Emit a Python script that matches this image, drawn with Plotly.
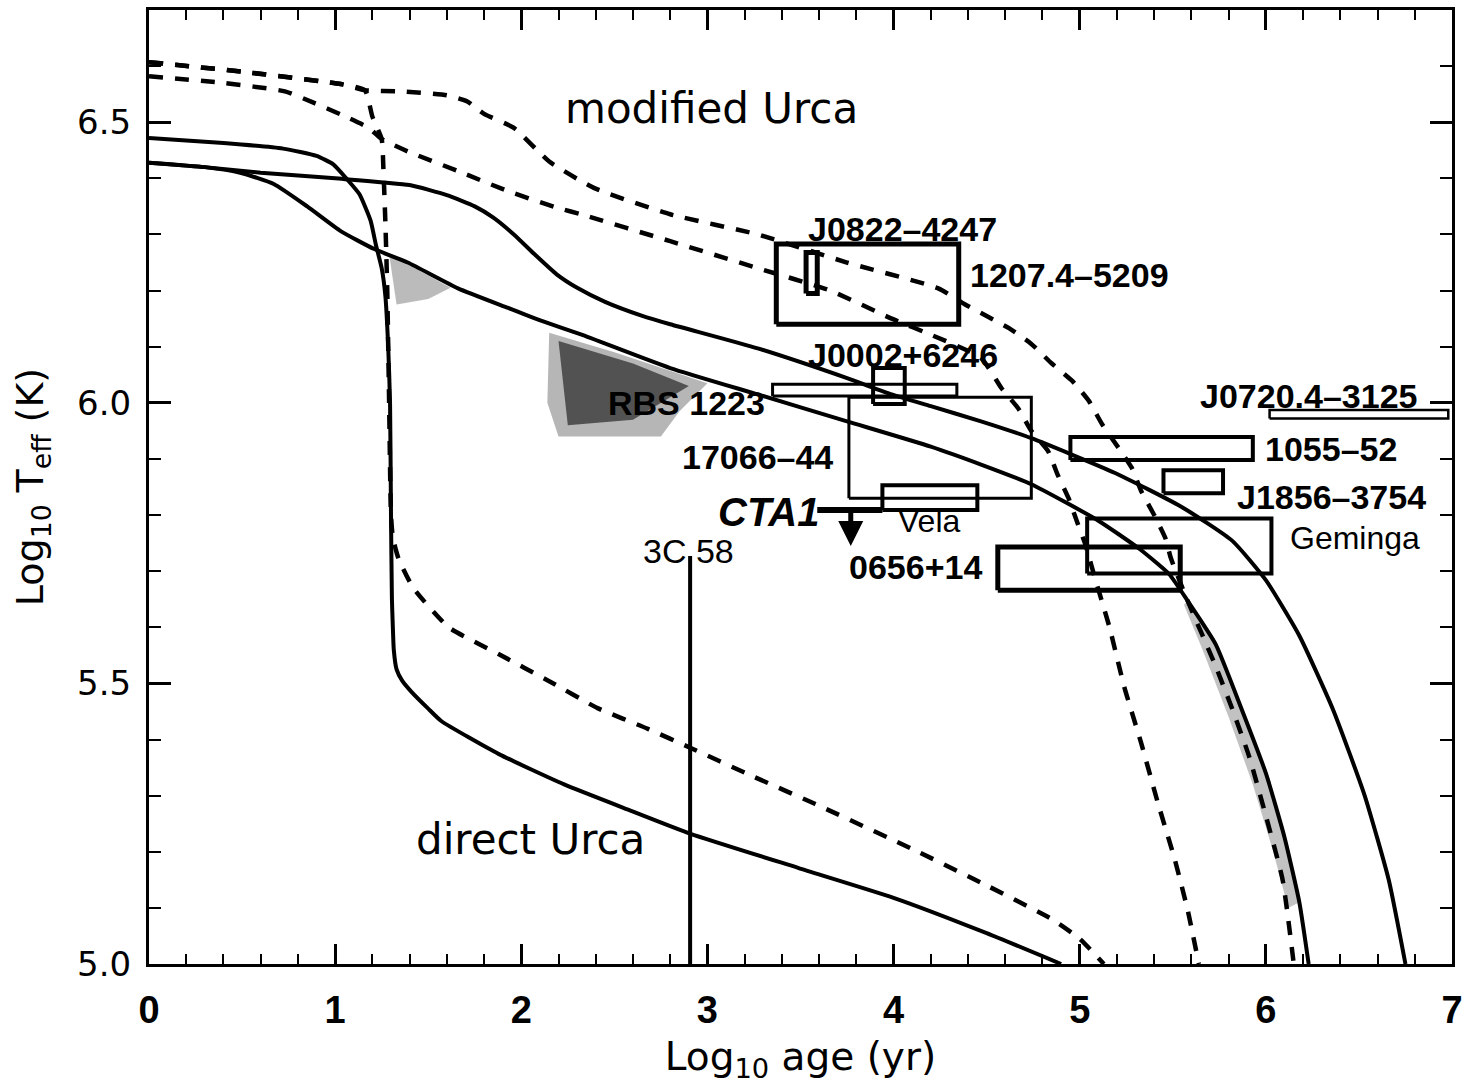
import plotly.graph_objects as go

# ---------------- cooling curves (log age, log Teff) ----------------
# solid, direct Urca (heavy envelope)
solid_du_x = [0, 0.4, 0.72, 0.9, 0.99, 1.06, 1.13, 1.19, 1.22, 1.25, 1.27, 1.285, 1.295, 1.30,
              1.305, 1.31, 1.315, 1.33, 1.36, 1.41, 1.5, 1.57, 1.88, 2.23, 2.59, 2.91, 3.49, 4.0, 4.5, 4.9]
solid_du_y = [6.472, 6.463, 6.453, 6.44, 6.425, 6.40, 6.372, 6.325, 6.28, 6.24, 6.19, 6.1, 6.0,
              5.8, 5.65, 5.6, 5.56, 5.525, 5.505, 5.485, 5.455, 5.433, 5.374, 5.32, 5.273, 5.232, 5.171,
              5.118, 5.055, 5.0]
# solid, modified Urca (lower)
solid_mu1_x = [0, 0.3, 0.49, 0.67, 0.85, 1.03, 1.21, 1.39, 1.66, 1.93, 2.11, 2.32, 2.8, 3.27, 3.75,
               4.2, 4.47, 4.74, 5.1, 5.32, 5.48, 5.58, 5.73, 5.87, 6.0, 6.1, 6.18, 6.23]
solid_mu1_y = [6.428, 6.42, 6.41, 6.39, 6.35, 6.306, 6.274, 6.25, 6.204, 6.169, 6.146, 6.122, 6.062, 6.015,
               5.967, 5.922, 5.89, 5.855, 5.79, 5.74, 5.695, 5.647, 5.57, 5.454, 5.34, 5.226, 5.11, 5.0]
# solid, modified Urca (upper)
solid_mu2_x = [0, 0.3, 0.6, 1.0, 1.4, 1.6, 1.75, 1.85, 1.96, 2.08, 2.19, 2.3, 2.45, 2.65, 2.8, 3.27,
               3.75, 3.99, 4.2, 4.47, 4.74, 5.19, 5.55, 5.82, 6.0, 6.18, 6.36, 6.53, 6.66, 6.75]
solid_mu2_y = [6.428, 6.42, 6.41, 6.40, 6.388, 6.37, 6.35, 6.33, 6.30, 6.262, 6.229, 6.205, 6.18, 6.155,
               6.14, 6.097, 6.044, 6.015, 5.994, 5.967, 5.937, 5.875, 5.814, 5.754, 5.684, 5.585, 5.454,
               5.301, 5.15, 5.0]
# dashed, direct Urca (light envelope)
dashed_du_x = [0, 0.5, 1.03, 1.16, 1.2, 1.25, 1.26, 1.27, 1.28, 1.29, 1.30, 1.31, 1.34, 1.42, 1.61,
               1.88, 2.15, 2.41, 2.68, 2.91, 3.22, 3.58, 4.1, 4.5, 4.85, 5.0, 5.13]
dashed_du_y = [6.607, 6.59, 6.568, 6.557, 6.51, 6.47, 6.41, 6.32, 6.2, 6.0, 5.8, 5.76, 5.723, 5.67, 5.6,
               5.552, 5.504, 5.456, 5.419, 5.385, 5.338, 5.285, 5.205, 5.14, 5.08, 5.045, 5.0]
# dashed, modified Urca (upper)
dashed_mu1_x = [0, 0.5, 1.03, 1.16, 1.35, 1.6, 1.71, 1.8, 1.96, 2.15, 2.39, 2.8, 3.27, 3.75, 4.24, 4.38,
                4.62, 4.74, 4.85, 4.96, 5.05, 5.12, 5.21, 5.28, 5.33, 5.40, 5.46, 5.49, 5.58, 5.73,
                5.82, 5.91, 6.0, 6.09, 6.15]
dashed_mu1_y = [6.607, 6.59, 6.568, 6.557, 6.555, 6.548, 6.537, 6.515, 6.49, 6.43, 6.383, 6.336, 6.30,
                6.25, 6.204, 6.176, 6.133, 6.105, 6.07, 6.039, 6.003, 5.962, 5.919, 5.884, 5.843, 5.80,
                5.759, 5.723, 5.647, 5.531, 5.454, 5.37, 5.264, 5.15, 5.0]
# dashed, modified Urca (lower)
dashed_mu2_x = [0, 0.4, 0.73, 0.89, 1.03, 1.18, 1.25, 1.39, 1.66, 1.93, 2.2, 2.32, 2.8, 3.27, 3.66,
                3.99, 4.21, 4.47, 4.58, 4.67, 4.74, 4.83, 4.88, 4.94, 4.99, 5.03, 5.08, 5.16, 5.24,
                5.33, 5.42, 5.51, 5.58, 5.64]
dashed_mu2_y = [6.582, 6.57, 6.555, 6.534, 6.514, 6.49, 6.47, 6.448, 6.413, 6.377, 6.347, 6.336, 6.288,
                6.24, 6.2, 6.15, 6.12, 6.08, 6.026, 5.99, 5.95, 5.914, 5.873, 5.83, 5.784, 5.748, 5.69,
                5.6, 5.493, 5.394, 5.287, 5.187, 5.096, 5.0]

# ---------------- grey shaded regions ----------------
shade1_x = [1.29, 1.62, 1.5, 1.33]
shade1_y = [6.265, 6.205, 6.185, 6.175]
shade2_x = [2.15, 2.5, 3.0, 2.85, 2.75, 2.2, 2.14]
shade2_y = [6.125, 6.09, 6.035, 5.985, 5.94, 5.94, 6.0]
shade3_x = [2.2, 2.6, 2.9, 2.6, 2.25]
shade3_y = [6.11, 6.07, 6.03, 5.97, 5.96]
shade4_x = [5.56, 5.66, 5.8, 5.93, 6.04, 6.12, 6.18, 6.1, 6.0, 5.87, 5.73, 5.58]
shade4_y = [5.64, 5.56, 5.44, 5.32, 5.2, 5.1, 5.11, 5.226, 5.34, 5.454, 5.57, 5.647]

# ---------------- observed sources (error boxes) ----------------
box_names = ["1207.4-5209", "J0822-4247", "J0002+6246", "RBS 1223", "17066-44", "Vela",
             "0656+14", "Geminga", "J1856-3754", "1055-52", "J0720.4-3125"]
box_x0 = [3.37, 3.53, 3.89, 3.35, 3.76, 3.94, 4.56, 5.04, 5.45, 4.95, 6.02]
box_x1 = [4.35, 3.59, 4.06, 4.34, 4.74, 4.45, 5.54, 6.03, 5.77, 5.93, 6.98]
box_y0 = [6.140, 6.195, 5.998, 6.012, 5.83, 5.809, 5.666, 5.696, 5.839, 5.898, 5.972]
box_y1 = [6.283, 6.268, 6.062, 6.033, 6.01, 5.853, 5.743, 5.794, 5.880, 5.939, 5.987]
box_lw = [5, 5, 4, 3, 3, 4, 5, 4, 4, 4, 2.5]

# 3C 58 upper limit (age only)
c58_x = [2.907, 2.907]
c58_y = [5.0, 5.727]
# CTA1 upper limit
cta1_line_x = [3.59, 3.94]
cta1_line_y = [5.809, 5.809]
cta1_arrow_x = 3.77
cta1_arrow_y0 = 5.809
cta1_arrow_y1 = 5.745

# ---------------- labels ----------------
label_text = ["J0822–4247", "1207.4–5209", "J0002+6246", "RBS 1223", "17066–44", "0656+14",
              "J0720.4–3125", "1055–52", "J1856–3754"]
label_x = [4.05, 4.40, 4.05, 2.885, 3.27, 4.12, 6.23, 6.35, 6.35]
label_y = [6.309, 6.227, 6.086, 5.999, 5.903, 5.707, 6.012, 5.917, 5.833]
label_anchor = ["center", "left", "center", "center", "center", "center", "center", "center", "center"]
plain_text = ["Vela", "3C 58", "Geminga"]
plain_x = [4.19, 2.90, 6.48]
plain_y = [5.789, 5.736, 5.76]
plain_size = [32, 34, 32]
region_text = ["modified Urca", "direct Urca"]
region_x = [3.02, 2.05]
region_y = [6.525, 5.221]
cta1_text = "CTA1"
cta1_x = 3.33
cta1_y = 5.805

fig = go.Figure()

for sx, sy, col in [(shade1_x, shade1_y, "rgba(120,120,120,0.5)"),
                    (shade2_x, shade2_y, "rgba(110,110,110,0.5)"),
                    (shade3_x, shade3_y, "rgba(40,40,40,0.7)"),
                    (shade4_x, shade4_y, "rgba(120,120,120,0.45)")]:
    fig.add_trace(go.Scatter(x=sx, y=sy, fill="toself", fillcolor=col, mode="none",
                             hoverinfo="skip", showlegend=False))

for cx, cy in [(solid_du_x, solid_du_y), (solid_mu1_x, solid_mu1_y), (solid_mu2_x, solid_mu2_y)]:
    fig.add_trace(go.Scatter(x=cx, y=cy, mode="lines",
                             line=dict(color="black", width=4, shape="spline", smoothing=0.5),
                             showlegend=False))
for cx, cy in [(dashed_du_x, dashed_du_y), (dashed_mu1_x, dashed_mu1_y), (dashed_mu2_x, dashed_mu2_y)]:
    fig.add_trace(go.Scatter(x=cx, y=cy, mode="lines",
                             line=dict(color="black", width=4.5, dash="14px,12px", shape="spline", smoothing=0.5),
                             showlegend=False))

for i in range(len(box_names)):
    fig.add_trace(go.Scatter(x=[box_x0[i], box_x1[i], box_x1[i], box_x0[i], box_x0[i]],
                             y=[box_y0[i], box_y0[i], box_y1[i], box_y1[i], box_y0[i]],
                             mode="lines", line=dict(color="black", width=box_lw[i]),
                             name=box_names[i], showlegend=False))

fig.add_trace(go.Scatter(x=c58_x, y=c58_y, mode="lines", line=dict(color="black", width=4), showlegend=False))
fig.add_trace(go.Scatter(x=cta1_line_x, y=cta1_line_y, mode="lines", line=dict(color="black", width=6),
                         showlegend=False))

ann = []
ann.append(dict(x=cta1_arrow_x, y=cta1_arrow_y1, ax=cta1_arrow_x, ay=cta1_arrow_y0, xref="x", yref="y",
                axref="x", ayref="y", text="", showarrow=True, arrowhead=2, arrowsize=1.0, arrowwidth=5,
                arrowcolor="black"))
for t, x, y, a in zip(label_text, label_x, label_y, label_anchor):
    ann.append(dict(x=x, y=y, text="<b>" + t + "</b>", xref="x", yref="y", showarrow=False,
                    xanchor=a, yanchor="middle", font=dict(family="Liberation Sans", size=34, color="black")))
for t, x, y, s in zip(plain_text, plain_x, plain_y, plain_size):
    ann.append(dict(x=x, y=y, text=t, xref="x", yref="y", showarrow=False,
                    font=dict(family="Liberation Sans", size=s, color="black")))
for t, x, y in zip(region_text, region_x, region_y):
    ann.append(dict(x=x, y=y, text=t, xref="x", yref="y", showarrow=False,
                    font=dict(family="DejaVu Sans", size=42, color="black")))
ann.append(dict(x=cta1_x, y=cta1_y, text="<b><i>" + cta1_text + "</i></b>", xref="x", yref="y",
                showarrow=False, font=dict(family="Liberation Sans", size=40, color="black")))

axis_common = dict(showline=True, linewidth=3, linecolor="black", mirror="allticks", ticks="inside",
                   tickcolor="black", tickwidth=2.5, showgrid=False, zeroline=False, automargin=False)

fig.update_layout(
    width=1468, height=1084,
    margin=dict(l=149, r=16, t=10, b=120),
    paper_bgcolor="white", plot_bgcolor="white",
    annotations=ann,
    xaxis=dict(range=[0, 7], tick0=0, dtick=1, ticklen=20,
               minor=dict(dtick=0.2, ticks="inside", ticklen=10, tickwidth=2, tickcolor="black", showgrid=False),
               tickfont=dict(family="Liberation Sans", size=38, color="black", weight="bold"),
               ticklabelstandoff=10,
               title=dict(text="Log<sub>10</sub> age (yr)", font=dict(family="DejaVu Sans", size=39, color="black"),
                          standoff=14),
               **axis_common),
    yaxis=dict(range=[5.0, 6.7], tick0=5.0, dtick=0.5, tickformat=".1f", ticklen=22,
               minor=dict(dtick=0.1, ticks="inside", ticklen=12, tickwidth=2, tickcolor="black", showgrid=False),
               tickfont=dict(family="DejaVu Sans", size=34, color="black"),
               ticklabelstandoff=8,
               title=dict(text="Log<sub>10</sub> T<sub>eff</sub> (K)", font=dict(family="DejaVu Sans", size=38, color="black"),
                          standoff=22),
               **axis_common),
)

fig.write_html("out.html")
